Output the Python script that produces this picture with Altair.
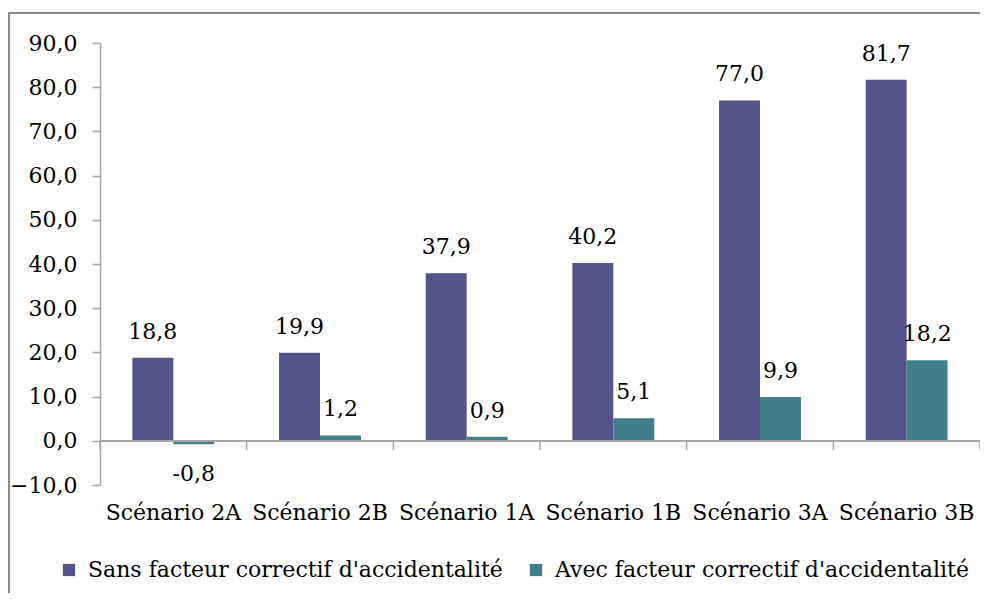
import altair as alt
import pandas as pd

categories = ["Scénario 2A", "Scénario 2B", "Scénario 1A", "Scénario 1B", "Scénario 3A", "Scénario 3B"]
series = ["Sans facteur correctif d'accidentalité", "Avec facteur correctif d'accidentalité"]
sans_values = [18.8, 19.9, 37.9, 40.2, 77.0, 81.7]
avec_values = [-0.8, 1.2, 0.9, 5.1, 9.9, 18.2]
colors = ["#53548A", "#41808A"]
y_ticks = [-10, 0, 10, 20, 30, 40, 50, 60, 70, 80, 90]

rows = []
for c, v in zip(categories, sans_values):
    rows.append({"cat": c, "series": series[0], "value": v, "label": f"{v:.1f}".replace(".", ",")})
for c, v in zip(categories, avec_values):
    rows.append({"cat": c, "series": series[1], "value": v, "label": f"{v:.1f}".replace(".", ",")})
df = pd.DataFrame(rows)
cat_df = pd.DataFrame({"cat": categories})

FONT = "DejaVu Serif"
FS = 22
W, H = 880, 442

x_enc = alt.X("cat:N", sort=categories,
              scale=alt.Scale(paddingInner=0, paddingOuter=0),
              axis=alt.Axis(title=None, labelAngle=0, domain=False, ticks=False,
                            bandPosition=0.5,
                            labelPadding=17, labelFont=FONT, labelFontSize=FS,
                            labelColor="black", labelBaseline="top", labelLimit=0))
xoff = alt.XOffset("series:N", sort=series, scale=alt.Scale(paddingInner=0, paddingOuter=0.79))
y_enc = alt.Y("value:Q", scale=alt.Scale(domain=[-10, 90], nice=False),
              axis=alt.Axis(title=None, values=y_ticks, grid=False,
                            labelExpr="replace(format(datum.value, '.1f'), '.', ',')",
                            domainColor="#a6a6a6", tickColor="#a6a6a6", tickSize=8,
                            domainWidth=1.5, tickWidth=1.5,
                            labelFont=FONT, labelFontSize=FS, labelColor="black",
                            labelPadding=15))

base = alt.Chart(df)

bars = base.mark_bar().encode(
    x=x_enc, xOffset=xoff, y=y_enc,
    color=alt.Color("series:N", sort=series,
                    scale=alt.Scale(domain=series, range=colors),
                    legend=alt.Legend(title=None, orient="none", legendX=-42, legendY=516,
                                      direction="horizontal", symbolType="square",
                                      symbolSize=150, symbolStrokeWidth=0,
                                      labelFont=FONT, labelFontSize=FS, labelColor="black",
                                      labelLimit=0, columnPadding=22, labelOffset=8)),
)

text_pos = base.transform_filter("datum.value >= 0").mark_text(
    baseline="bottom", dy=-14, font=FONT, fontSize=FS, color="black"
).encode(x=alt.X("cat:N", sort=categories), xOffset=xoff, y="value:Q", text="label:N")

text_neg = base.transform_filter("datum.value < 0").mark_text(
    baseline="top", dy=20, font=FONT, fontSize=FS, color="black"
).encode(x=alt.X("cat:N", sort=categories), xOffset=xoff, y="value:Q", text="label:N")

zero = alt.Chart(cat_df).mark_rule(color="#a6a6a6", strokeWidth=1.5).encode(y=alt.datum(0))

ticks_start = alt.Chart(cat_df).mark_rule(color="#a6a6a6", strokeWidth=1.5).encode(
    x=alt.X("cat:N", sort=categories, bandPosition=0), y=alt.datum(0), y2=alt.datum(-2))
ticks_end = alt.Chart(cat_df).transform_filter(
    alt.datum.cat == categories[-1]).mark_rule(color="#a6a6a6", strokeWidth=1.5).encode(
    x=alt.X("cat:N", sort=categories, bandPosition=1), y=alt.datum(0), y2=alt.datum(-2))

frame = alt.Chart(cat_df).mark_rect(fillOpacity=0, stroke="#8c8c8c", strokeWidth=2).encode(
    x=alt.value(-91), x2=alt.value(W + 60), y=alt.value(-30), y2=alt.value(H + 200))

chart = alt.layer(bars, zero, ticks_start, ticks_end, text_pos, text_neg, frame).properties(
    width=W, height=H,
    background="white",
    autosize=alt.AutoSizeParams(type="none"),
    padding={"left": 92, "top": 35, "right": 0, "bottom": 108},
).configure_view(strokeWidth=0, stroke="transparent").configure_legend(
    labelFont=FONT, labelFontSize=FS, labelLimit=0
)

chart.save("out.html", embed_options={"renderer": "svg", "actions": False})
